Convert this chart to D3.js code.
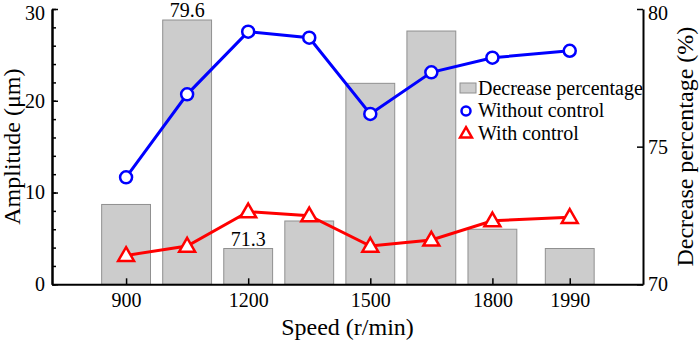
<!DOCTYPE html>
<html>
<head>
<meta charset="utf-8">
<script src="https://cdn.jsdelivr.net/npm/d3@7/dist/d3.min.js"></script>
<style>
  html, body { margin: 0; padding: 0; background: #fff; }
  svg { display: block; }
  text { font-family: "Liberation Serif", "Times New Roman", serif; fill: #000; }
</style>
</head>
<body>
<svg id="chart" width="700" height="344"></svg>
<script>
// Rotational speed (r/min)
const speeds = [900, 1050, 1200, 1350, 1500, 1650, 1800, 1990];
// Vibration amplitude (µm)
const withoutControl = [11.66, 20.70, 27.53, 26.87, 18.56, 23.10, 24.69, 25.45];
const withControl = [3.15, 4.17, 7.91, 7.47, 4.17, 4.83, 6.93, 7.30];
// Amplitude decrease (%)
const decreasePct = [72.9, 79.6, 71.3, 72.3, 77.3, 79.2, 72.0, 71.3];
// Bars carrying a value label
const labelledSpeeds = [1050, 1200];
// Axis ticks
const speedTicks = [900, 1200, 1500, 1800, 1990];
const ampTicks = [0, 10, 20, 30];
const pctTicks = [70, 75, 80];

const svg = d3.select("#chart");
const plotLeft = 52, plotRight = 643, plotTop = 9, plotBottom = 284.3;

const x = d3.scaleLinear().domain([718, 2170]).range([plotLeft, plotRight]);
const yL = d3.scaleLinear().domain([0, 30]).range([plotBottom, plotTop]);
const yR = d3.scaleLinear().domain([70, 80]).range([plotBottom, plotTop]);
const barHalf = 60; // half bar width in r/min

// Bars: decrease percentage on the right axis
const barData = speeds.map((s, i) => ({ s, v: decreasePct[i] }));
svg.append("g").selectAll("rect")
  .data(barData)
  .join("rect")
  .attr("x", d => x(d.s - barHalf))
  .attr("width", d => x(d.s + barHalf) - x(d.s - barHalf))
  .attr("y", d => yR(d.v))
  .attr("height", d => yR(70) - yR(d.v))
  .attr("fill", "#cccccc")
  .attr("stroke", "#909090")
  .attr("stroke-width", 1);

svg.append("g").selectAll("text")
  .data(barData.filter(d => labelledSpeeds.includes(d.s)))
  .join("text")
  .attr("x", d => x(d.s))
  .attr("y", d => yR(d.v) - 3)
  .attr("text-anchor", "middle")
  .attr("font-size", 20)
  .text(d => d.v.toFixed(1));

// Axes
const fontSize = 20;
function styleAxis(g) {
  g.selectAll("path.domain").attr("stroke", "#000").attr("stroke-width", 2);
  g.selectAll(".tick line").attr("stroke", "#000").attr("stroke-width", 1.5);
  g.selectAll(".tick text").attr("font-size", fontSize).attr("font-family", "Liberation Serif, Times New Roman, serif").attr("fill", "#000");
}
// Keep the topmost tick label inside the drawing area
function nudgeTopLabel(g, topValue) {
  g.selectAll(".tick").filter(d => d === topValue).select("text").attr("dy", "0.5em");
}

// Left axis: minor ticks every 2 µm, labelled majors every 10 µm
svg.append("g").attr("transform", `translate(${plotLeft},0)`)
  .call(d3.axisLeft(yL).tickValues(d3.range(0, 31, 2)).tickSizeInner(-4).tickSizeOuter(0).tickFormat(""))
  .call(styleAxis);
svg.append("g").attr("transform", `translate(${plotLeft},0)`)
  .call(d3.axisLeft(yL).tickValues(ampTicks).tickSizeInner(-6).tickSizeOuter(0).tickPadding(7))
  .call(styleAxis)
  .call(g => nudgeTopLabel(g, 30));

// Right axis
svg.append("g").attr("transform", `translate(${plotRight},0)`)
  .call(d3.axisRight(yR).tickValues(pctTicks).tickSizeInner(-6).tickSizeOuter(0).tickPadding(5))
  .call(styleAxis)
  .call(g => nudgeTopLabel(g, 80));

// Bottom axis
svg.append("g").attr("transform", `translate(0,${plotBottom})`)
  .call(d3.axisBottom(x).tickValues(speedTicks).tickSizeInner(-6).tickSizeOuter(0).tickPadding(9).tickFormat(d3.format("d")))
  .call(styleAxis);

// Axis titles
const titleSize = 24;
svg.append("text")
  .attr("transform", `translate(20,${(plotTop + plotBottom) / 2}) rotate(-90)`)
  .attr("text-anchor", "middle").attr("font-size", titleSize)
  .text("Amplitude (μm)");
svg.append("text")
  .attr("transform", `translate(693,${(plotTop + plotBottom) / 2}) rotate(-90)`)
  .attr("text-anchor", "middle").attr("font-size", titleSize)
  .text("Decrease percentage (%)");
svg.append("text")
  .attr("x", (plotLeft + plotRight) / 2).attr("y", 335)
  .attr("text-anchor", "middle").attr("font-size", titleSize)
  .text("Speed (r/min)");

// Lines with markers
const line = d3.line().x(d => x(d.s)).y(d => yL(d.v));
const series = [
  { name: "Without control", values: withoutControl, color: "#0000ff", marker: "circle" },
  { name: "With control", values: withControl, color: "#ff0000", marker: "triangle" }
];
const tri = d3.symbol().type(d3.symbolTriangle).size(110);

series.forEach(sr => {
  const pts = speeds.map((s, i) => ({ s, v: sr.values[i] }));
  svg.append("path").datum(pts)
    .attr("d", line).attr("fill", "none")
    .attr("stroke", sr.color).attr("stroke-width", 3);
  const g = svg.append("g");
  if (sr.marker === "circle") {
    g.selectAll("circle").data(pts).join("circle")
      .attr("cx", d => x(d.s)).attr("cy", d => yL(d.v)).attr("r", 6)
      .attr("fill", "#fff").attr("stroke", sr.color).attr("stroke-width", 2.5);
  } else {
    g.selectAll("path").data(pts).join("path")
      .attr("d", tri)
      .attr("transform", d => `translate(${x(d.s)},${yL(d.v) + 1})`)
      .attr("fill", "#fff").attr("stroke", sr.color).attr("stroke-width", 2.5);
  }
});

// Legend
const lg = svg.append("g").attr("transform", "translate(466,0)");
lg.append("rect").attr("x", -6).attr("y", 83).attr("width", 16).attr("height", 10)
  .attr("fill", "#cccccc").attr("stroke", "#909090");
lg.append("text").attr("x", 12).attr("y", 95).attr("font-size", 20).text("Decrease percentage");
lg.append("circle").attr("cx", 0).attr("cy", 111).attr("r", 4.5)
  .attr("fill", "#fff").attr("stroke", "#0000ff").attr("stroke-width", 2.5);
lg.append("text").attr("x", 12).attr("y", 117).attr("font-size", 20).text("Without control");
lg.append("path").attr("d", d3.symbol().type(d3.symbolTriangle).size(60))
  .attr("transform", "translate(0,134)")
  .attr("fill", "#fff").attr("stroke", "#ff0000").attr("stroke-width", 2.5);
lg.append("text").attr("x", 12).attr("y", 140).attr("font-size", 20).text("With control");
</script>
</body>
</html>
